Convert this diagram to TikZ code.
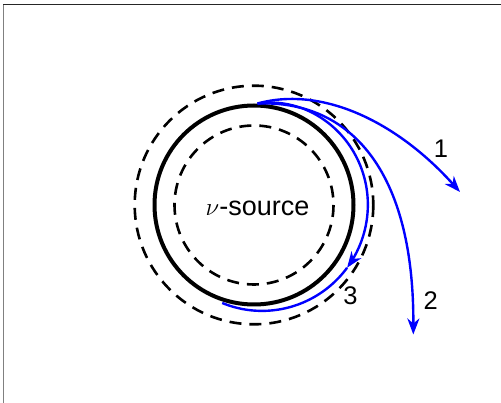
\documentclass[tikz,border=0pt]{standalone}
\usepackage{fontspec}
\setmainfont{Liberation Sans}
\usetikzlibrary{arrows.meta}
\begin{document}
\begin{tikzpicture}[x=1pt,y=-1pt,
  declare function={rr(\t)=101+2*(88-\t)/196+12*sin(180*pow((88-\t)/196+0.0001,0.8));},
  lbl/.style={font=\fontsize{25.5}{30}\selectfont, inner sep=0pt},
  orbit/.style={draw=blue, line width=2.4pt},
  tip/.style={-{Stealth[length=16pt,width=12pt,inset=5pt]}},
  ring/.style={draw=black, line width=2.6pt, dash pattern=on 12pt off 8pt}]
\useasboundingbox (0,0) rectangle (501,403);
\draw[line width=1pt, black!85] (3,5) -- (501,5);
\draw[line width=1.6pt, gray] (3.5,5) -- (3.5,403);
% source
\node[circle, draw, line width=4pt, minimum size=199pt, inner sep=0pt] (src) at (254,205) {};
\draw[ring] (src.center) circle[radius=79.5];
\draw[ring] (src.center) circle[radius=119.3];
\node[lbl, font=\fontsize{27}{30}\selectfont] (srclabel) at (257.5,208.7) {$\nu$-source};
% trajectories
\coordinate (start) at (257.5,103.5);
\coordinate (end1) at (460,192);
\coordinate (end2) at (413.3,334.5);
\draw[orbit, tip] (start) .. controls (325,85) and (400,125) .. (end1);
\draw[orbit, tip] (start) .. controls (350,100) and (414,170) .. (end2);
\draw[orbit, tip] plot[domain=88:-34, samples=80, variable=\t] ({254+rr(\t)*cos(\t)}, {205-rr(\t)*sin(\t)});
\draw[orbit] plot[domain=-34:-108, samples=50, variable=\t] ({254+rr(\t)*cos(\t)}, {205-rr(\t)*sin(\t)});
% labels
\node[lbl] (l1) at (441,148.3) {1};
\node[lbl] (l2) at (430.7,301) {2};
\node[lbl] (l3) at (350.5,296) {3};
\end{tikzpicture}
\end{document}
